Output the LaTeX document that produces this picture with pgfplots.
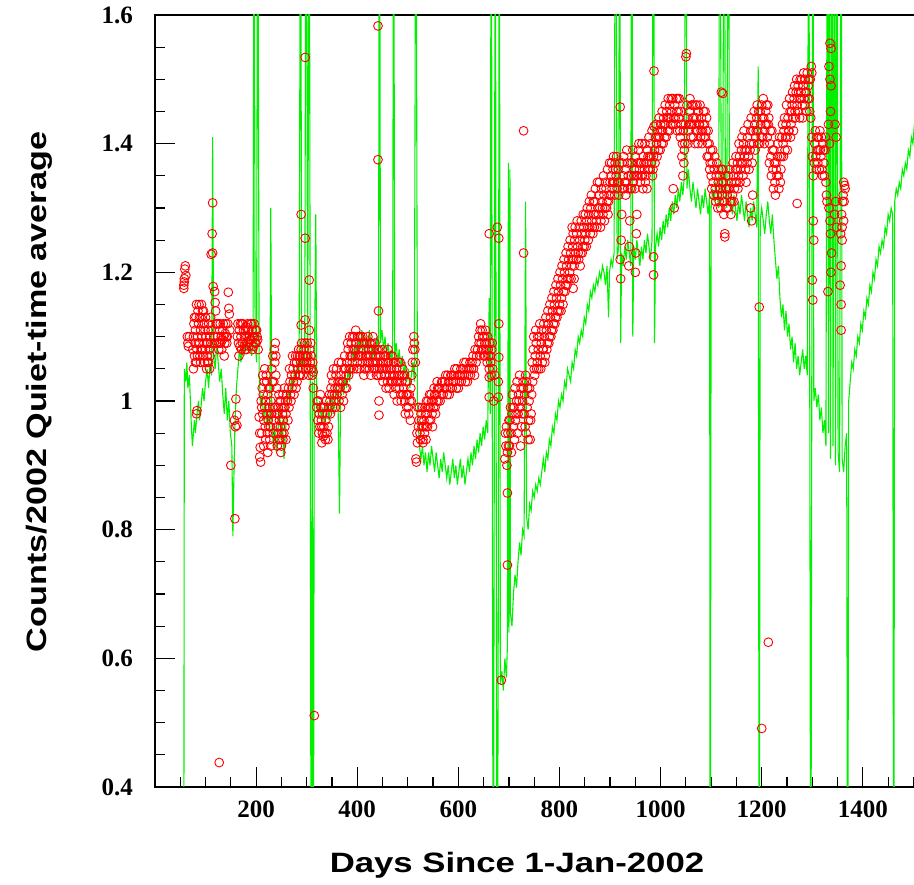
\documentclass[border=0pt]{standalone}
\usepackage{fontspec}
\setmainfont{Liberation Serif}
\newfontfamily\labelfont{Liberation Sans}
\usepackage{graphicx}
\usepackage{pgfplots}
\pgfplotsset{compat=1.18}
\definecolor{ggreen}{RGB}{0,240,0}
\definecolor{rred}{RGB}{255,0,0}
\pgfplotstableread{
x y
-8 1.032
57 1.18
57 1.175
58 1.19
59 1.205
60 1.21
61 1.195
58 1.185
64 1.10
65 1.09
66 1.085
68 1.10
83 0.985
82 0.98
75 1.08
76 1.10
77 1.12
78 1.07
79 1.09
80 1.11
81 1.13
82 1.06
83 1.08
84 1.10
85 1.14
86 1.12
87 1.15
88 1.09
89 1.07
90 1.11
91 1.13
92 1.15
93 1.10
94 1.08
95 1.12
96 1.14
97 1.09
98 1.06
99 1.11
100 1.08
101 1.10
102 1.05
103 1.07
104 1.09
105 1.11
106 1.06
107 1.08
108 1.10
109 1.07
110 1.09
111 1.11
114 1.308
113 1.26
111 1.228
114 1.23
115 1.178
118 1.17
119 1.153
120 1.14
121 1.12
116 1.10
117 1.09
127 0.438
122 1.09
124 1.10
125 1.12
127 1.09
128 1.11
130 1.09
131 1.10
133 1.095
134 1.11
136 1.10
138 1.09
139 1.105
141 1.10
142 1.09
145 1.169
146 1.144
147 1.135
144 1.12
148 1.11
150 0.90
158 0.817
160 1.003
162 0.978
162 0.962
157 0.97
159 0.96
163 1.10
165 1.09
167 1.11
168 1.085
170 1.10
172 1.12
173 1.09
175 1.11
177 1.10
178 1.08
180 1.115
182 1.10
184 1.09
185 1.11
187 1.10
189 1.12
190 1.095
192 1.11
194 1.10
195 1.085
197 1.10
199 1.11
200 1.09
202 1.10
204 1.08
207 0.913
209 0.905
206 0.975
207 0.95
208 0.928
210 1.00
211 0.99
212 1.02
213 0.98
214 1.01
215 0.97
216 1.03
217 0.99
218 0.96
219 1.00
220 1.04
221 0.98
222 0.95
223 1.01
224 0.97
225 1.02
226 0.99
227 0.94
228 0.96
229 1.00
230 0.98
231 1.05
232 1.03
233 0.99
234 0.95
235 0.97
236 1.08
237 1.06
238 1.09
239 1.04
240 0.98
241 0.96
242 0.93
243 0.95
244 0.99
245 1.01
246 0.97
247 0.94
248 0.96
249 1.00
250 0.93
251 0.95
252 0.98
253 0.94
254 0.97
255 0.99
256 1.02
257 0.96
258 1.00
259 0.98
260 1.01
262 1.00
264 1.02
265 0.99
267 1.03
268 1.01
270 1.04
271 1.02
273 1.05
274 1.03
276 1.06
277 1.04
279 1.02
280 1.06
282 1.07
283 1.05
285 1.04
286 1.07
288 1.06
289 1.08
291 1.05
292 1.07
294 1.06
295 1.08
297 1.07
298 1.05
289 1.29
297 1.253
297 1.534
305 1.188
289 1.118
297 1.126
305 1.11
313 1.045
313 1.02
315 0.511
300 1.06
302 1.07
303 1.05
306 1.08
307 1.06
309 1.07
310 1.05
312 1.06
320 0.99
322 0.97
323 1.00
325 0.98
326 0.96
328 0.99
329 0.97
330 0.935
331 0.95
332 0.98
333 0.945
334 0.96
335 0.99
337 0.94
338 0.97
340 0.95
341 0.98
343 0.96
344 0.99
346 1.00
348 1.02
350 1.01
352 1.03
354 1.00
356 1.02
358 1.04
360 1.01
362 1.03
364 1.00
366 1.02
368 1.04
370 1.01
372 1.03
374 1.05
376 1.02
378 1.04
380 1.06
382 1.08
384 1.05
386 1.07
388 1.09
390 1.06
392 1.08
394 1.10
396 1.07
398 1.09
400 1.06
402 1.08
404 1.10
406 1.07
408 1.09
410 1.06
412 1.08
414 1.05
416 1.07
418 1.09
420 1.06
422 1.08
424 1.05
426 1.07
428 1.09
430 1.06
432 1.08
434 1.05
436 1.07
438 1.04
440 1.06
442 1.08
444 1.05
443 1.00
443 0.978
441 1.583
441 1.375
442 1.14
446 1.07
448 1.05
450 1.08
452 1.06
454 1.04
456 1.07
458 1.05
460 1.03
462 1.06
464 1.04
466 1.07
468 1.05
470 1.03
472 1.06
474 1.04
476 1.02
478 1.05
480 1.03
482 1.06
484 1.04
486 1.01
488 1.03
490 1.05
492 1.02
494 1.00
496 1.03
498 0.99
500 1.01
502 0.98
504 1.00
506 1.02
508 1.04
512 1.10
513 1.09
514 1.08
515 1.06
516 0.91
517 0.905
518 0.95
519 0.935
520 0.99
522 0.97
524 0.95
526 0.98
528 0.96
530 0.94
530 0.935
532 0.97
534 0.99
536 0.96
536 0.94
538 0.98
540 1.00
542 0.97
544 0.99
546 1.01
548 0.98
550 1.00
552 1.02
554 0.99
556 1.01
558 1.03
560 1.00
563 1.02
566 1.01
569 1.03
572 1.02
575 1.04
578 1.01
581 1.03
584 1.02
587 1.04
590 1.03
593 1.05
596 1.02
599 1.04
602 1.03
605 1.05
608 1.04
611 1.06
614 1.03
617 1.05
620 1.04
623 1.06
626 1.05
629 1.07
632 1.04
635 1.06
638 1.08
640 1.10
642 1.07
644 1.12
645 1.09
647 1.11
649 1.08
651 1.10
653 1.07
655 1.09
657 1.06
659 1.08
661 1.05
663 1.07
665 1.04
667 1.09
661 1.26
677 1.27
680 1.253
680 1.12
680 1.068
679 1.03
679 1.006
661 1.037
661 1.006
670 1.00
672 1.04
685 0.566
697 0.857
697 0.745
692 0.91
694 0.93
695 0.96
697 0.92
698 0.95
700 0.97
701 0.93
703 0.99
704 0.95
706 0.98
707 1.01
709 0.96
710 0.99
712 1.02
713 0.97
715 1.00
716 1.03
718 0.98
719 1.01
721 1.04
722 0.99
724 1.02
725 0.96
727 1.00
728 1.03
729 1.42
729 1.23
730 0.98
731 1.01
733 1.04
734 0.95
736 0.99
737 1.02
739 0.97
740 1.00
742 0.94
744 0.98
745 1.01
746 1.06
748 1.08
750 1.05
752 1.07
754 1.09
756 1.06
758 1.08
760 1.10
762 1.07
764 1.09
766 1.06
768 1.08
770 1.10
772 1.07
774 1.11
776 1.09
778 1.12
780 1.10
782 1.13
784 1.11
786 1.14
788 1.12
790 1.15
792 1.13
794 1.16
796 1.14
798 1.17
800 1.15
802 1.18
804 1.16
806 1.19
808 1.17
810 1.20
812 1.18
814 1.21
816 1.19
818 1.22
820 1.20
822 1.23
824 1.21
825 1.27
827 1.175
829 1.19
826 1.24
828 1.22
830 1.25
832 1.23
834 1.26
836 1.24
838 1.22
840 1.25
842 1.23
844 1.26
846 1.24
848 1.27
850 1.25
852 1.26
854 1.28
856 1.27
858 1.29
860 1.27
862 1.30
864 1.28
866 1.26
868 1.29
870 1.31
872 1.29
874 1.27
876 1.30
878 1.32
880 1.30
882 1.28
884 1.31
886 1.29
888 1.32
890 1.30
892 1.33
894 1.31
896 1.29
898 1.32
900 1.34
902 1.35
904 1.33
906 1.36
908 1.34
910 1.37
912 1.35
914 1.33
916 1.36
918 1.34
920 1.457
920 1.22
921 1.19
922 1.25
923 1.29
924 1.37
926 1.35
928 1.33
930 1.36
932 1.34
934 1.37
936 1.35
937 1.21
938 1.24
939 1.28
940 1.33
942 1.35
944 1.37
946 1.34
948 1.36
950 1.38
950 1.20
951 1.23
952 1.26
953 1.29
952 1.35
954 1.37
956 1.39
958 1.36
960 1.34
962 1.37
964 1.35
966 1.38
968 1.36
970 1.34
972 1.37
974 1.39
976 1.36
978 1.38
980 1.40
982 1.37
984 1.35
986 1.38
987 1.513
987 1.427
986 1.224
986 1.196
988 1.39
990 1.41
992 1.40
994 1.42
996 1.39
998 1.41
1000 1.43
1002 1.40
1004 1.42
1006 1.44
1008 1.41
1010 1.43
1012 1.45
1014 1.42
1016 1.44
1018 1.46
1020 1.43
1022 1.45
1024 1.47
1025 1.33
1027 1.30
1026 1.44
1028 1.46
1030 1.43
1032 1.45
1034 1.47
1036 1.44
1038 1.42
1040 1.45
1042 1.38
1044 1.35
1046 1.37
1048 1.40
1050 1.535
1051 1.54
1053 1.44
1055 1.42
1057 1.45
1059 1.43
1061 1.46
1063 1.44
1065 1.41
1067 1.43
1069 1.46
1071 1.44
1073 1.42
1075 1.45
1077 1.43
1079 1.41
1081 1.44
1083 1.42
1085 1.45
1087 1.43
1089 1.41
1091 1.44
1093 1.40
1095 1.38
1097 1.36
1099 1.39
1100 1.35
1120 1.48
1123 1.478
1127 1.26
1127 1.255
1102 1.37
1104 1.34
1106 1.36
1108 1.33
1110 1.35
1112 1.32
1114 1.34
1116 1.31
1118 1.33
1120 1.36
1122 1.32
1124 1.34
1126 1.31
1128 1.33
1130 1.30
1132 1.32
1134 1.35
1136 1.33
1138 1.31
1140 1.34
1142 1.32
1144 1.35
1146 1.33
1148 1.36
1150 1.34
1152 1.37
1154 1.35
1156 1.38
1158 1.36
1160 1.39
1162 1.37
1164 1.40
1166 1.38
1168 1.36
1170 1.39
1172 1.41
1174 1.38
1176 1.40
1178 1.42
1178 1.30
1180 1.28
1182 1.32
1184 1.40
1186 1.43
1188 1.41
1190 1.44
1192 1.42
1194 1.45
1196 1.40
1198 1.43
1200 1.46
1202 1.41
1204 1.44
1206 1.42
1208 1.45
1210 1.43
1195 1.146
1200 0.491
1213 0.625
1212 1.46
1214 1.44
1216 1.40
1218 1.38
1220 1.42
1222 1.36
1224 1.39
1226 1.34
1228 1.37
1230 1.35
1232 1.40
1234 1.33
1236 1.38
1238 1.36
1240 1.41
1242 1.40
1244 1.42
1246 1.39
1248 1.43
1250 1.41
1252 1.44
1254 1.42
1256 1.45
1258 1.43
1260 1.46
1262 1.44
1264 1.47
1266 1.45
1268 1.48
1270 1.307
1270 1.46
1272 1.49
1274 1.47
1276 1.50
1278 1.48
1280 1.46
1282 1.49
1284 1.47
1286 1.50
1288 1.48
1290 1.51
1292 1.49
1294 1.47
1296 1.50
1298 1.52
1299 1.51
1300 1.188
1301 1.157
1302 1.28
1303 1.25
1297 1.44
1299 1.41
1300 1.38
1302 1.35
1305 1.40
1307 1.38
1309 1.41
1311 1.37
1313 1.39
1315 1.42
1317 1.38
1319 1.36
1321 1.40
1323 1.37
1325 1.39
1327 1.34
1328 1.32
1329 1.31
1335 1.556
1337 1.548
1333 1.52
1335 1.50
1337 1.49
1332 1.43
1334 1.40
1336 1.45
1333 1.30
1335 1.28
1336 1.26
1338 1.23
1331 1.17
1337 1.20
1345 1.43
1347 1.41
1346 1.31
1348 1.27
1344 1.29
1362 1.34
1364 1.335
1360 1.31
1358 1.29
1359 1.27
1356 1.26
1357 1.21
1355 1.18
1357 1.15
1357 1.11
1363 1.31
1362 1.28
1365 1.33
1361 1.32
1359 1.25
}\redA
\pgfplotstableread{
x y
76 1.05
78 1.13
80 1.06
82 1.15
84 1.07
86 1.09
88 1.13
90 1.06
92 1.08
94 1.14
96 1.07
98 1.12
100 1.13
102 1.09
104 1.06
106 1.12
108 1.05
110 1.13
123 1.12
126 1.08
129 1.12
132 1.08
135 1.12
137 1.07
140 1.12
143 1.10
164 1.12
166 1.07
169 1.12
171 1.08
174 1.12
176 1.085
179 1.11
181 1.08
183 1.12
186 1.085
188 1.095
191 1.12
193 1.08
196 1.12
198 1.09
201 1.11
203 1.095
211 0.95
213 1.04
215 0.93
217 1.05
219 0.94
221 1.03
223 0.92
225 0.96
227 1.02
229 0.93
231 0.98
233 1.07
235 1.03
237 0.99
239 1.07
241 1.02
243 0.98
245 0.94
247 1.00
249 0.92
251 0.99
253 1.01
255 0.95
257 0.99
259 0.94
263 0.97
266 1.05
269 1.00
272 1.07
275 1.01
278 1.07
281 1.03
284 1.08
287 1.04
290 1.09
293 1.04
296 1.09
299 1.07
301 1.09
304 1.04
308 1.09
311 1.04
321 1.00
324 0.95
327 1.01
330 0.96
333 0.99
336 0.95
339 1.00
342 0.94
345 1.01
347 0.98
349 1.04
351 0.99
353 1.05
355 1.01
357 0.99
359 1.05
361 1.02
363 1.06
365 1.03
367 0.99
369 1.06
371 1.03
373 1.00
375 1.07
377 1.05
379 1.02
381 1.09
383 1.04
385 1.10
387 1.05
389 1.07
391 1.10
393 1.05
395 1.08
397 1.11
399 1.05
401 1.10
403 1.07
405 1.05
407 1.10
409 1.07
411 1.10
413 1.04
415 1.09
417 1.05
419 1.07
421 1.10
423 1.06
425 1.09
427 1.04
429 1.08
431 1.10
433 1.06
435 1.09
437 1.05
439 1.08
441 1.04
443 1.07
447 1.04
449 1.06
451 1.03
453 1.07
455 1.05
457 1.02
459 1.06
461 1.08
463 1.02
465 1.05
467 1.03
469 1.07
471 1.04
473 1.01
475 1.06
477 1.03
479 1.00
481 1.04
483 1.02
485 1.06
487 1.00
489 1.04
491 1.01
493 1.04
495 0.98
497 1.01
499 1.03
501 0.99
503 1.01
505 0.97
507 1.00
509 1.06
510 1.08
521 0.96
523 0.99
525 0.94
527 0.97
529 0.99
531 0.96
533 0.95
535 0.98
537 1.00
539 0.96
541 0.99
543 1.01
545 0.97
547 1.00
549 0.96
551 0.99
553 1.01
555 0.98
557 1.00
559 1.02
561 1.02
564 1.00
567 1.03
570 1.01
573 1.03
576 1.02
579 1.04
582 1.01
585 1.04
588 1.02
591 1.04
594 1.03
597 1.05
600 1.02
603 1.04
606 1.03
609 1.05
612 1.04
615 1.06
618 1.03
621 1.05
624 1.04
627 1.06
630 1.05
633 1.08
636 1.07
641 1.09
643 1.11
646 1.08
648 1.10
650 1.07
652 1.09
654 1.11
656 1.08
658 1.10
660 1.07
662 1.09
664 1.06
666 1.08
668 1.05
693 0.95
696 0.90
699 0.93
702 0.97
705 0.92
708 0.99
711 0.94
714 0.98
717 0.95
720 1.00
723 0.93
726 0.98
729 1.02
732 0.96
735 1.03
738 0.94
741 1.02
743 0.97
747 1.03
749 1.10
751 1.04
753 1.11
755 1.05
757 1.10
759 1.05
761 1.12
763 1.05
765 1.11
767 1.08
769 1.12
771 1.06
773 1.13
775 1.08
777 1.14
779 1.09
781 1.15
783 1.10
785 1.16
787 1.11
789 1.17
791 1.12
793 1.18
795 1.13
797 1.19
799 1.14
801 1.20
803 1.14
805 1.21
807 1.15
809 1.22
811 1.17
813 1.23
815 1.18
817 1.24
819 1.19
821 1.25
823 1.19
825 1.22
827 1.26
829 1.21
831 1.27
833 1.22
835 1.28
837 1.23
839 1.27
841 1.21
843 1.28
845 1.23
847 1.29
849 1.24
851 1.29
853 1.24
855 1.30
857 1.25
859 1.31
861 1.26
863 1.32
865 1.27
867 1.31
869 1.27
871 1.33
873 1.28
875 1.34
877 1.29
879 1.34
881 1.27
883 1.33
885 1.30
887 1.35
889 1.28
891 1.34
893 1.30
895 1.36
897 1.31
899 1.37
901 1.32
903 1.37
905 1.34
907 1.38
909 1.32
911 1.36
913 1.38
915 1.34
917 1.32
919 1.37
925 1.33
927 1.38
929 1.34
931 1.32
933 1.39
935 1.33
941 1.37
943 1.33
945 1.39
947 1.35
949 1.33
955 1.35
957 1.40
959 1.37
961 1.35
963 1.40
965 1.33
967 1.37
969 1.40
971 1.35
973 1.33
975 1.38
977 1.41
979 1.36
981 1.38
983 1.42
985 1.36
989 1.37
991 1.43
993 1.38
995 1.41
997 1.44
999 1.39
1001 1.42
1003 1.45
1005 1.40
1007 1.43
1009 1.46
1011 1.41
1013 1.44
1015 1.47
1017 1.42
1019 1.44
1021 1.47
1023 1.43
1029 1.44
1031 1.47
1033 1.42
1035 1.45
1037 1.47
1039 1.41
1041 1.43
1043 1.40
1045 1.42
1047 1.39
1049 1.43
1052 1.46
1054 1.40
1056 1.43
1058 1.47
1060 1.41
1062 1.43
1064 1.46
1066 1.44
1068 1.40
1070 1.42
1072 1.46
1074 1.40
1076 1.43
1078 1.46
1080 1.42
1082 1.40
1084 1.43
1086 1.41
1088 1.45
1090 1.42
1092 1.38
1094 1.42
1096 1.40
1098 1.37
1101 1.33
1103 1.39
1105 1.32
1107 1.38
1109 1.31
1111 1.37
1113 1.30
1115 1.36
1117 1.35
1119 1.30
1121 1.34
1123 1.36
1125 1.29
1129 1.35
1131 1.33
1133 1.30
1135 1.33
1137 1.36
1139 1.29
1141 1.31
1143 1.37
1145 1.31
1147 1.34
1149 1.38
1151 1.36
1153 1.33
1155 1.40
1157 1.34
1159 1.37
1161 1.41
1163 1.35
1165 1.42
1167 1.39
1169 1.34
1171 1.37
1173 1.43
1175 1.36
1177 1.39
1179 1.44
1181 1.37
1183 1.42
1185 1.45
1187 1.39
1189 1.42
1191 1.46
1193 1.40
1197 1.45
1199 1.41
1201 1.44
1203 1.47
1205 1.40
1207 1.43
1209 1.46
1211 1.41
1213 1.43
1215 1.37
1217 1.42
1219 1.35
1221 1.39
1223 1.33
1225 1.37
1227 1.32
1229 1.36
1231 1.38
1233 1.35
1235 1.41
1237 1.34
1239 1.38
1241 1.43
1243 1.38
1245 1.44
1247 1.41
1249 1.46
1251 1.39
1253 1.42
1255 1.47
1257 1.41
1259 1.45
1261 1.48
1263 1.42
1265 1.49
1267 1.44
1269 1.50
1271 1.45
1273 1.48
1275 1.44
1277 1.47
1279 1.50
1281 1.44
1283 1.51
1285 1.46
1287 1.48
1289 1.45
1291 1.47
1293 1.50
1295 1.45
1304 1.37
1306 1.42
1308 1.36
1310 1.39
1312 1.41
1314 1.36
1316 1.39
1318 1.41
1320 1.35
1322 1.39
1324 1.35
1326 1.41
}\redB
\begin{document}
\begin{tikzpicture}
\begin{axis}[
  scale only axis, width=766pt, height=772pt,
  xmin=0, xmax=1515, ymin=0.4, ymax=1.6,
  xtick={200,400,...,1400}, ytick={0.4,0.6,...,1.61},
  minor xtick={50,100,...,1500},
  minor ytick={0.45,0.5,...,1.6},
  xtick pos=lower, ytick pos=left,
  tick align=inside,
  major tick length=20pt, minor tick length=10pt,
  tick style={line width=1.2pt, black},
  axis line style={line width=1.6pt},
  /pgf/number format/assume math mode=true,
  /pgf/number format/1000 sep={},
  yticklabel={\pgfmathprintnumber[fixed,precision=1]{\tick}},
  tick label style={font=\fontsize{25}{25}\selectfont\bfseries},
  xticklabel style={inner sep=0pt, anchor=north, yshift=-14pt},
  yticklabel style={inner sep=0pt, anchor=east, xshift=-22pt},
  clip=true,
]
\addplot[color=ggreen, line width=1.1pt] table {
57 0.20
58 1.05
61 1.03
63 1.06
65 1.02
68 1.04
70 1.00
72 0.96
74 0.93
76 0.95
78 0.97
80 0.95
83 0.98
86 1.00
88 0.97
91 0.99
94 1.02
97 1.00
100 1.03
103 1.05
106 1.02
109 1.06
112 1.04
114 1.41
116 1.07
119 1.05
122 1.09
125 1.06
128 1.03
131 1.05
134 1.01
137 0.98
140 1.02
143 0.97
146 1.00
149 0.95
152 0.93
154 0.79
156 0.88
158 0.96
161 1.02
164 1.05
167 1.08
170 1.06
173 1.09
176 1.07
179 1.10
182 1.08
185 1.11
188 1.09
191 1.07
194 1.10
196 2.0
198 1.09
201 1.06
203 2.0
206 1.04
209 0.99
212 1.01
215 0.97
218 1.00
221 0.96
224 0.98
227 0.95
229 1.30
231 0.97
234 0.93
237 0.96
240 0.92
243 0.95
246 0.99
249 0.94
252 0.97
255 0.91
258 0.95
261 0.99
264 1.02
267 1.00
270 1.04
273 1.02
276 1.05
279 1.03
282 1.06
285 1.04
288 2.0
290 1.05
293 1.07
296 1.04
299 2.0
302 1.06
305 2.0
307 1.05
309 0.0
311 1.03
313 0.0
315 1.02
318 1.29
320 1.00
323 0.98
326 1.00
329 0.97
332 0.99
335 0.96
338 0.98
341 1.00
344 0.97
347 0.99
350 1.01
353 0.98
356 1.00
359 1.02
362 1.00
365 0.825
367 1.01
370 1.03
373 1.01
376 1.04
379 1.02
382 1.05
385 1.03
388 1.06
391 1.08
394 1.06
397 1.09
400 1.07
403 1.10
406 1.08
409 1.11
412 1.09
415 1.07
418 1.10
421 1.08
424 1.11
427 1.09
430 1.06
433 1.09
436 1.07
439 1.10
442 1.08
444 2.0
446 1.09
449 1.11
452 1.08
455 1.10
458 1.07
461 1.09
464 1.06
467 1.08
470 1.05
472 2.0
474 1.07
477 1.09
480 1.06
483 1.08
486 1.05
489 1.07
492 1.04
495 1.06
498 1.03
501 1.05
504 1.02
507 1.04
510 1.06
513 1.03
516 2.0
519 1.00
521 0.96
523 0.93
526 0.91
529 0.93
532 0.90
535 0.92
538 0.89
541 0.92
544 0.90
547 0.93
550 0.91
553 0.89
556 0.92
559 0.90
562 0.88
565 0.91
568 0.89
571 0.92
574 0.90
577 0.88
580 0.90
583 0.87
586 0.89
589 0.91
592 0.88
595 0.90
598 0.87
601 0.89
604 0.91
607 0.88
610 0.90
613 0.87
616 0.89
619 0.91
622 0.89
625 0.92
628 0.90
631 0.93
634 0.91
637 0.94
640 0.92
643 0.95
646 0.93
649 0.96
652 0.94
655 0.97
658 0.95
661 1.16
663 0.98
665 2.0
667 1.0
669 0.0
671 0.9
673 2.0
675 0.8
677 0.0
679 0.7
681 2.0
683 0.56
686 0.58
689 0.55
692 0.60
695 0.57
697 0.62
699 1.37
700 0.64
702 1.36
703 0.67
706 0.65
709 0.70
712 0.73
715 0.71
718 0.75
721 0.78
724 0.76
727 0.80
730 0.79
733 1.31
735 0.82
738 0.80
741 0.84
744 0.83
747 0.86
750 0.85
753 0.87
756 0.86
759 0.88
762 0.87
765 0.89
768 0.91
771 0.89
774 0.92
777 0.91
780 0.94
783 0.93
786 0.96
789 0.95
792 0.98
795 0.97
798 1.00
801 0.99
804 1.01
807 1.00
810 1.03
813 1.02
816 1.05
819 1.04
822 1.03
825 1.06
828 1.05
831 1.08
834 1.07
837 1.10
840 1.09
843 1.11
846 1.10
849 1.13
852 1.12
855 1.15
858 1.14
861 1.17
864 1.16
867 1.18
870 1.17
873 1.19
876 1.18
879 1.20
882 1.19
885 1.21
888 1.20
891 1.18
894 1.21
897 1.13
899 1.20
902 1.22
905 1.21
908 1.23
911 2.0
914 1.22
917 1.24
919 2.0
921 1.09
923 1.23
926 1.21
929 1.24
932 1.22
935 1.25
938 1.23
941 1.21
943 2.0
945 1.10
947 1.24
950 1.22
953 1.25
956 1.23
959 1.21
962 1.24
965 1.22
968 1.25
971 1.23
974 1.26
977 1.24
980 1.22
983 1.25
986 2.0
988 1.09
990 1.24
993 1.26
996 1.24
999 1.27
1002 1.25
1005 1.28
1008 1.26
1011 1.29
1014 1.27
1017 1.30
1020 1.28
1023 1.31
1026 1.29
1029 1.32
1032 1.30
1035 1.33
1038 1.31
1041 1.34
1044 1.32
1047 1.35
1050 2.0
1052 1.33
1055 1.36
1058 1.33
1061 1.31
1064 1.34
1067 1.32
1070 1.30
1073 1.33
1076 1.31
1079 1.29
1082 1.32
1085 1.30
1088 1.33
1091 1.31
1094 1.29
1097 1.32
1098 0.0
1100 1.30
1103 1.33
1106 1.31
1109 1.34
1112 1.32
1115 1.30
1117 2.0
1120 1.31
1123 1.34
1126 2.0
1128 1.32
1131 1.30
1134 2.0
1136 1.33
1139 1.31
1142 1.29
1145 1.32
1148 1.30
1151 1.28
1154 1.31
1157 1.29
1160 1.32
1163 1.30
1166 1.28
1169 1.31
1172 1.29
1175 1.27
1178 1.30
1181 1.28
1184 1.31
1187 1.29
1190 1.27
1193 1.52
1195 0.0
1197 1.28
1200 1.30
1203 1.28
1206 1.26
1209 1.29
1212 1.31
1215 1.28
1218 1.26
1221 1.29
1224 1.25
1227 1.22
1230 1.19
1233 1.21
1236 1.16
1239 1.13
1242 1.15
1245 1.11
1248 1.14
1251 1.10
1254 1.12
1257 1.08
1260 1.10
1263 1.06
1266 1.09
1269 1.05
1272 1.07
1275 1.04
1278 1.06
1281 1.08
1284 1.05
1287 1.07
1290 1.04
1293 2.0
1295 1.02
1297 0.0
1299 1.03
1301 2.0
1303 1.00
1306 1.02
1309 0.99
1312 1.01
1315 0.97
1318 0.99
1321 0.95
1324 0.97
1327 0.93
1330 2.0
1332 0.95
1334 2.0
1336 0.91
1339 2.0
1341 0.93
1344 2.0
1346 0.90
1349 2.0
1351 0.92
1354 0.89
1357 2.0
1359 0.91
1362 0.89
1365 0.93
1368 0.95
1370 0.0
1372 1.00
1375 1.03
1378 1.06
1381 1.05
1384 1.08
1387 1.07
1390 1.10
1393 1.09
1396 1.12
1399 1.11
1402 1.14
1405 1.13
1408 1.16
1411 1.15
1414 1.18
1417 1.17
1420 1.20
1423 1.19
1426 1.22
1429 1.21
1432 1.24
1435 1.23
1438 1.25
1441 1.24
1444 1.27
1447 1.26
1450 1.29
1453 1.28
1456 1.30
1459 1.29
1461 0.0
1463 1.31
1466 1.33
1469 1.32
1472 1.34
1475 1.33
1478 1.36
1481 1.35
1484 1.37
1487 1.36
1490 1.39
1493 1.38
1496 1.41
1499 1.40
1502 1.43
1505 1.42
1520 1.44
};
\addplot[only marks, mark=o, mark size=4.4pt, color=rred, mark options={line width=0.9pt}] table[x=x, y=y] {\redA};
\addplot[only marks, mark=o, mark size=4.4pt, color=rred, mark options={line width=0.9pt}] table[x=x, y=y] {\redB};
\end{axis}
\node[anchor=base, font=\labelfont\bfseries\fontsize{28}{28}\selectfont] at (362pt,-86pt) {\scalebox{1.24}[1]{Days Since 1-Jan-2002}};
\node[anchor=base, rotate=90, font=\labelfont\bfseries\fontsize{28}{28}\selectfont] at (-108pt,395pt) {\scalebox{1.22}[1]{Counts/2002 Quiet-time average}};
\pgfresetboundingbox
\useasboundingbox (-155pt,-98pt) rectangle (759pt,787pt);
\end{tikzpicture}
\end{document}
